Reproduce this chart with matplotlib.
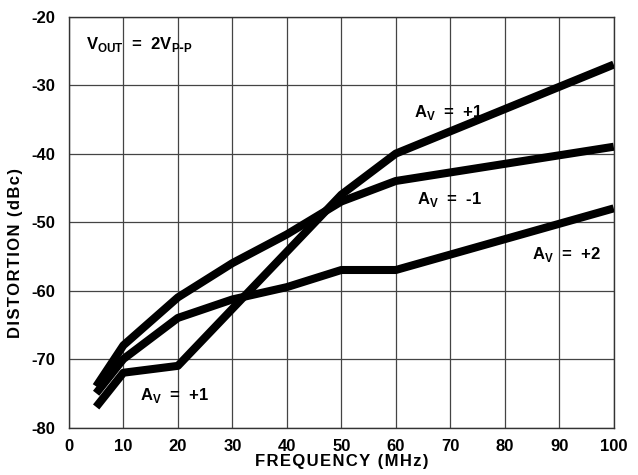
import matplotlib
matplotlib.use('Agg')
import matplotlib.pyplot as plt

plt.rcParams['font.family'] = ['Liberation Sans', 'DejaVu Sans']
plt.rcParams['font.weight'] = 'bold'
plt.rcParams['axes.unicode_minus'] = False

# Valores (frequência em MHz, distorção em dBc)
freq_av_p1 = [5, 10, 20, 50, 60, 100]
dist_av_p1 = [-77, -72, -71, -46, -40, -27]

freq_av_m1 = [5, 10, 20, 30, 40, 50, 60, 100]
dist_av_m1 = [-74, -68, -61, -56, -51.8, -47, -44, -39]

freq_av_p2 = [5, 10, 20, 30, 40, 50, 60, 100]
dist_av_p2 = [-75, -70, -64, -61.3, -59.5, -57, -57, -48]

xticks = list(range(0, 101, 10))
yticks = list(range(-80, -19, 10))


def espacado(txt):
    # letras um pouco afastadas, como no original
    return '\u200a'.join(txt)


fig = plt.figure(figsize=(6.38, 4.75), dpi=100)
ax = fig.add_axes([0.108, 0.10, 0.854, 0.865])

for f, d in [(freq_av_p1, dist_av_p1), (freq_av_m1, dist_av_m1), (freq_av_p2, dist_av_p2)]:
    ax.plot(f, d, color='black', lw=5.8, solid_capstyle='butt', solid_joinstyle='round', zorder=3)

ax.set_xlim(0, 100)
ax.set_ylim(-80, -20)
ax.set_xticks(xticks)
ax.set_yticks(yticks)
ax.tick_params(length=0, labelsize=12)
ax.tick_params(axis='x', pad=8)
ax.tick_params(axis='y', pad=10)
ax.grid(True, color='#444444', lw=0.9)
for s in ax.spines.values():
    s.set_color('#333333')
    s.set_linewidth(1.0)

ax.set_xlabel(espacado('FREQUENCY (MHz)'), fontsize=12, fontweight='bold', labelpad=0)
ax.set_ylabel(espacado('DISTORTION (dBc)'), fontsize=12, fontweight='bold')
ax.yaxis.set_label_coords(-0.084, 0.425)

ax.text(3.1, -24.7, r'V$_\mathregular{OUT}$  =  2V$_\mathregular{P\text{-}P}$', fontsize=12, va='baseline')
ax.text(63.3, -34.7, r'A$_\mathregular{V}$  =  +1', fontsize=12, va='baseline')
ax.text(63.9, -47.4, r'A$_\mathregular{V}$  =  -1', fontsize=12, va='baseline')
ax.text(85.0, -55.4, r'A$_\mathregular{V}$  =  +2', fontsize=12, va='baseline')
ax.text(13.0, -76.0, r'A$_\mathregular{V}$  =  +1', fontsize=12, va='baseline')

fig.savefig('out.png', dpi=100)
